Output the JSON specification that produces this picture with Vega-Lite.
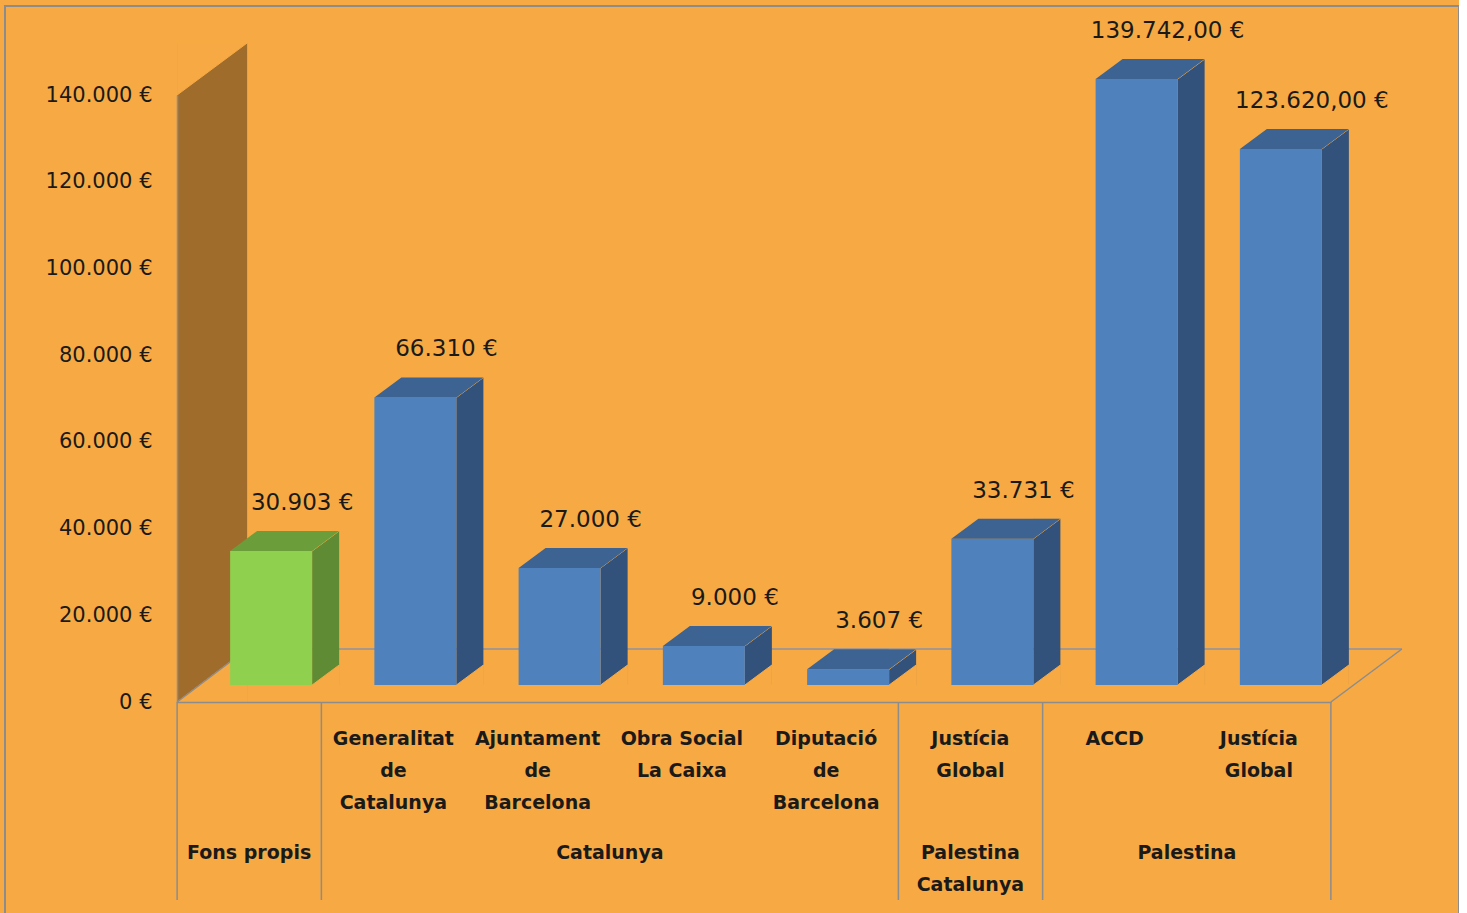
{
  "$schema": "https://vega.github.io/schema/vega-lite/v6.json",
  "width": 1454,
  "height": 910,
  "autosize": {"type": "none"},
  "padding": {"left": 5, "top": 6, "right": 0, "bottom": 0},
  "background": "#F7A943",
  "config": {"view": {"stroke": "#8C8C8C", "strokeWidth": 2}},
  "datasets": {
    "bars": [
      {"cat": "Fons propis", "group": "Fons propis", "value": 30903, "text": "30.903 €"},
      {"cat": "Generalitat\nde\nCatalunya", "group": "Catalunya", "value": 66310, "text": "66.310 €"},
      {"cat": "Ajuntament\nde\nBarcelona", "group": "Catalunya", "value": 27000, "text": "27.000 €"},
      {"cat": "Obra Social\nLa Caixa", "group": "Catalunya", "value": 9000, "text": "9.000 €"},
      {"cat": "Diputació\nde\nBarcelona", "group": "Catalunya", "value": 3607, "text": "3.607 €"},
      {"cat": "Justícia\nGlobal", "group": "Palestina Catalunya", "value": 33731, "text": "33.731 €"},
      {"cat": "ACCD", "group": "Palestina", "value": 139742, "text": "139.742,00 €"},
      {"cat": "Justícia\nGlobal\u200b", "group": "Palestina", "value": 123620, "text": "123.620,00 €"}
    ],
    "groups": [
      {"group": "Fons propis", "first": "Fons propis", "anchor": "Fons propis", "place": "centre"},
      {"group": "Catalunya", "first": "Generalitat\nde\nCatalunya", "anchor": "Obra Social\nLa Caixa", "place": "edge"},
      {"group": "Palestina\nCatalunya", "first": "Justícia\nGlobal", "anchor": "Justícia\nGlobal", "place": "centre"},
      {"group": "Palestina", "first": "ACCD", "anchor": "Justícia\nGlobal\u200b", "place": "edge"}
    ],
    "frame": [{"part": "frame"}]
  },
  "data": {"name": "bars"},
  "layer": [
    {
      "data": {"name": "frame"},
      "mark": {"type": "bar", "color": "#A06C2B", "width": 70, "xOffset": -37, "yOffset": -52},
      "encoding": {
        "x": {"datum": "Fons propis", "type": "nominal",
              "scale": {"type": "band", "domain": ["Fons propis", "Generalitat\nde\nCatalunya", "Ajuntament\nde\nBarcelona", "Obra Social\nLa Caixa", "Diputació\nde\nBarcelona", "Justícia\nGlobal", "ACCD", "Justícia\nGlobal\u200b"], "range": [172, 1326], "paddingInner": 0, "paddingOuter": 0},
              "axis": {"title": null, "orient": "bottom", "offset": -214, "zindex": 1, "domain": true, "domainColor": "#8C8C8C", "domainWidth": 1.5, "ticks": false, "grid": false,
                       "labelExpr": "datum.value == 'Fons propis' ? '' : split(datum.value, '\\n')",
                       "labelFont": "DejaVu Sans", "labelFontWeight": "bold", "labelFontSize": 19, "labelLineHeight": 32, "labelPadding": 27, "labelColor": "#1A1A1A", "labelAngle": 0, "labelBaseline": "top", "labelOverlap": false, "labelBound": false, "labelLimit": 400}},
        "y": {"datum": 140000, "type": "quantitative",
              "scale": {"domain": [0, 140000], "range": [696, 89], "nice": false, "zero": false},
              "axis": {"title": null, "orient": "left", "offset": -172, "zindex": 1, "domain": true, "domainColor": "#8C8C8C", "domainWidth": 1.5, "ticks": false, "grid": false,
                       "values": [0, 20000, 40000, 60000, 80000, 100000, 120000, 140000],
                       "labelExpr": "replace(format(datum.value, ','), ',', '.') + ' €'",
                       "labelFont": "DejaVu Sans", "labelFontSize": 21, "labelPadding": 25, "labelColor": "#1A1A1A", "labelAlign": "right", "labelBaseline": "middle", "labelOverlap": false, "labelBound": false}},
        "y2": {"datum": 0}
      }
    },
    {
      "data": {"name": "frame"},
      "mark": {"type": "point", "shape": "M-72,0 L-72,-52 L-2,-52 Z", "size": 4, "filled": true, "opacity": 1, "color": "#F7A943", "stroke": "#F7A943", "strokeWidth": 1},
      "encoding": {
        "x": {"datum": "Fons propis", "type": "nominal"},
        "y": {"datum": 140000, "type": "quantitative"}
      }
    },
    {
      "data": {"name": "frame"},
      "mark": {"type": "point", "shape": "M-72,0 L-2,0 L-2,-53 Z", "size": 4, "filled": true, "opacity": 1, "color": "#F7A943", "stroke": "#F7A943", "strokeWidth": 1},
      "encoding": {
        "x": {"datum": "Fons propis", "type": "nominal"},
        "y": {"datum": 0, "type": "quantitative"}
      }
    },
    {
      "data": {"name": "frame"},
      "mark": {"type": "rule", "color": "#8C93A0", "strokeWidth": 1.5, "xOffset": -2, "x2Offset": 143, "yOffset": -53},
      "encoding": {
        "x": {"datum": "Fons propis", "type": "nominal"},
        "x2": {"datum": "Justícia\nGlobal\u200b"},
        "y": {"datum": 0, "type": "quantitative"}
      }
    },
    {
      "data": {"name": "frame"},
      "mark": {"type": "rule", "color": "#8C8C8C", "strokeWidth": 1.5, "xOffset": 72, "x2Offset": 143, "y2Offset": -53},
      "encoding": {
        "x": {"datum": "Justícia\nGlobal\u200b", "type": "nominal"},
        "x2": {"datum": "Justícia\nGlobal\u200b"},
        "y": {"datum": 0, "type": "quantitative"},
        "y2": {"datum": 0}
      }
    },
    {
      "data": {"name": "frame"},
      "mark": {"type": "rule", "color": "#8C8C8C", "strokeWidth": 1.5, "xOffset": -72, "x2Offset": -2, "y2Offset": -53},
      "encoding": {
        "x": {"datum": "Fons propis", "type": "nominal"},
        "x2": {"datum": "Fons propis"},
        "y": {"datum": 0, "type": "quantitative"},
        "y2": {"datum": 0}
      }
    },
    {
      "mark": {"type": "bar", "width": 27, "xOffset": 76.5, "yOffset": -37, "y2Offset": -17},
      "encoding": {
        "x": {"field": "cat", "type": "nominal", "title": null},
        "y": {"field": "value", "type": "quantitative", "title": null},
        "y2": {"datum": 0},
        "color": {"condition": {"test": "datum.group == 'Fons propis'", "value": "#5E8B33"}, "value": "#32527B"}
      }
    },
    {
      "mark": {"type": "point", "shape": "M63,-17 L63,-37 L90,-37 Z", "size": 4, "filled": true, "opacity": 1, "color": "#F7A943", "stroke": "#F7A943", "strokeWidth": 1},
      "encoding": {
        "x": {"field": "cat", "type": "nominal", "title": null},
        "y": {"field": "value", "type": "quantitative", "title": null}
      }
    },
    {
      "mark": {"type": "point", "shape": "M63,-17 L90,-17 L90,-37 Z", "size": 4, "filled": true, "opacity": 1, "color": "#F7A943", "stroke": "#F7A943", "strokeWidth": 1},
      "encoding": {
        "x": {"field": "cat", "type": "nominal", "title": null},
        "y": {"datum": 0, "type": "quantitative"}
      }
    },
    {
      "mark": {"type": "bar", "width": 82, "xOffset": 22, "yOffset": -17, "y2Offset": -17},
      "encoding": {
        "x": {"field": "cat", "type": "nominal", "title": null},
        "y": {"field": "value", "type": "quantitative", "title": null},
        "y2": {"datum": 0},
        "color": {"condition": {"test": "datum.group == 'Fons propis'", "value": "#8FD14F"}, "value": "#4F81BD"}
      }
    },
    {
      "mark": {"type": "point", "shape": "M-19,-17 L63,-17 L90,-37 L8,-37 Z", "size": 4, "filled": true, "opacity": 1, "strokeWidth": 0},
      "encoding": {
        "x": {"field": "cat", "type": "nominal", "title": null},
        "y": {"field": "value", "type": "quantitative", "title": null},
        "color": {"condition": {"test": "datum.group == 'Fons propis'", "value": "#6B9E3B"}, "value": "#3C6392"}
      }
    },
    {
      "mark": {"type": "text", "dx": 53, "dy": -65, "baseline": "middle", "align": "center", "font": "DejaVu Sans", "fontSize": 23, "color": "#1A1A1A"},
      "encoding": {
        "x": {"field": "cat", "type": "nominal", "title": null},
        "y": {"field": "value", "type": "quantitative", "title": null},
        "text": {"field": "text"}
      }
    },
    {
      "data": {"name": "groups"},
      "mark": {"type": "rule", "color": "#8C8C8C", "strokeWidth": 1.5, "xOffset": -72, "y2Offset": 198},
      "encoding": {
        "x": {"field": "first", "type": "nominal", "title": null},
        "y": {"datum": 0, "type": "quantitative"},
        "y2": {"datum": 0}
      }
    },
    {
      "data": {"name": "frame"},
      "mark": {"type": "rule", "color": "#8C8C8C", "strokeWidth": 1.5, "xOffset": 72, "y2Offset": 198},
      "encoding": {
        "x": {"datum": "Justícia\nGlobal\u200b", "type": "nominal"},
        "y": {"datum": 0, "type": "quantitative"},
        "y2": {"datum": 0}
      }
    },
    {
      "data": {"name": "groups"},
      "transform": [{"filter": "datum.place == 'centre'"}],
      "mark": {"type": "text", "dy": 142, "baseline": "top", "align": "center", "font": "DejaVu Sans", "fontWeight": "bold", "fontSize": 19, "lineHeight": 32, "lineBreak": "\n", "color": "#1A1A1A"},
      "encoding": {
        "x": {"field": "anchor", "type": "nominal", "title": null},
        "y": {"datum": 0, "type": "quantitative"},
        "text": {"field": "group"}
      }
    },
    {
      "data": {"name": "groups"},
      "transform": [{"filter": "datum.place == 'edge'"}],
      "mark": {"type": "text", "dx": -72, "dy": 142, "baseline": "top", "align": "center", "font": "DejaVu Sans", "fontWeight": "bold", "fontSize": 19, "lineHeight": 32, "lineBreak": "\n", "color": "#1A1A1A"},
      "encoding": {
        "x": {"field": "anchor", "type": "nominal", "title": null},
        "y": {"datum": 0, "type": "quantitative"},
        "text": {"field": "group"}
      }
    }
  ]
}
